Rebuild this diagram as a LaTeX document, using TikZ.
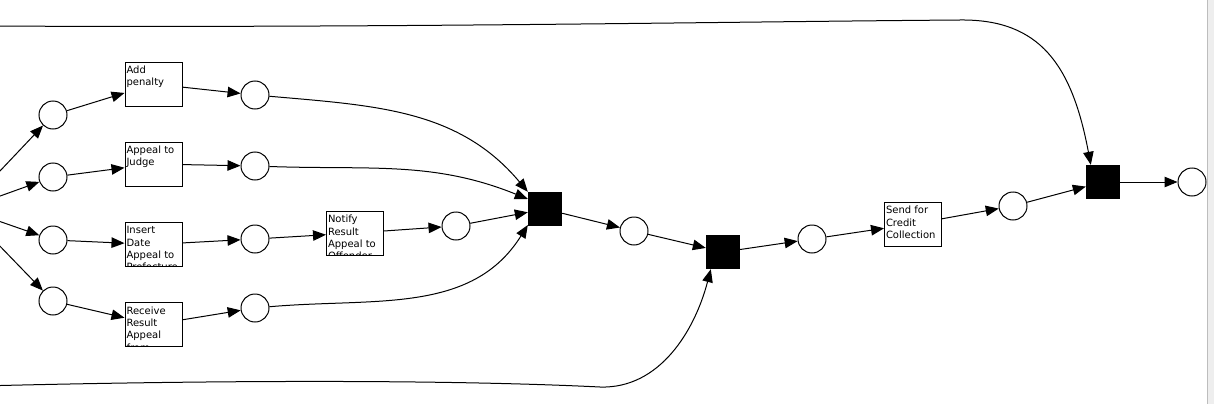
\documentclass[tikz,border=0pt]{standalone}
\usepackage{fontspec}
\setsansfont{DejaVu Sans}
\usetikzlibrary{arrows.meta}
\definecolor{stripgray}{HTML}{EEEEEE}
\definecolor{edgegray}{HTML}{BDBDBD}
\tikzset{
  place/.style={circle,draw,line width=1pt,minimum size=28pt,inner sep=0pt},
  silent/.style={rectangle,fill=black,minimum size=34pt,inner sep=0pt},
  lbl/.style={anchor=north west,draw=none,fill=none,minimum width=0pt,minimum height=0pt,inner sep=0pt,
    align=left,font=\sffamily\fontsize{10}{12.4}\selectfont},
  trans/.style={rectangle,draw,fill=white,line width=1pt,minimum width=57pt,minimum height=44pt,inner sep=0pt,
    path picture={\node[lbl] at ([xshift=1pt,yshift=-3.5pt]path picture bounding box.north west) {#1};}},
  flow/.style={line width=1pt,-{Triangle[length=13pt,width=10.5pt]}}
}
\begin{document}
\begin{tikzpicture}[x=1pt,y=-1pt]
      \useasboundingbox (0,0) rectangle (1214,404);
      \clip (0,0) rectangle (1214,404);
      \fill[stripgray] (1207,0) rectangle (1214,404);
      \draw[edgegray] (1207.5,0) to (1207.5,404);

      %%off-page ends
      \coordinate (src) at (-36,209);
      \coordinate (topL) at (-20,26);
      \coordinate (botL) at (-20,386);

      %%first column
      \node[place] (pA) at (53,115) {};
      \node[place] (pB) at (53,177) {};
      \node[place] (pC) at (53,240) {};
      \node[place] (pD) at (53,301) {};

      \node[trans={Add\\penalty}] (tAdd) at (153.5,84) {};
      \node[trans={Appeal to\\Judge}] (tJudge) at (153.5,164) {};
      \node[trans={Insert\\Date\\Appeal to\\Prefecture}] (tInsert) at (153.5,244.5) {};
      \node[trans={Receive\\Result\\Appeal\\from}] (tReceive) at (153.5,324.5) {};

      \node[place] (pA2) at (255,95) {};
      \node[place] (pB2) at (255,166) {};
      \node[place] (pC2) at (255,239) {};
      \node[place] (pD2) at (255,308) {};

      \node[trans={Notify\\Result\\Appeal to\\Offender}] (tNotify) at (355,233) {};
      \node[place] (pN) at (456,226) {};

      %%join and tail
      \node[silent] (t1) at (545,209) {};
      \node[place] (pM) at (634,231) {};
      \node[silent] (t2) at (723,252) {};
      \node[place] (pE) at (812,239) {};
      \node[trans={Send for\\Credit\\Collection}] (tSend) at (913,224) {};
      \node[place] (pF) at (1013,206) {};
      \node[silent] (t3) at (1103,182) {};
      \node[place] (pEnd) at (1192,182) {};

      \draw[flow] (src) -- (pA);
      \draw[flow] (src) -- (pB);
      \draw[flow] (src) -- (pC);
      \draw[flow] (src) -- (pD);

      \draw[flow] (pA) -- (tAdd);
      \draw[flow] (tAdd) -- (pA2);
      \draw[flow] (pB) -- (tJudge);
      \draw[flow] (tJudge) -- (pB2);
      \draw[flow] (pC) -- (tInsert);
      \draw[flow] (tInsert) -- (pC2);
      \draw[flow] (pC2) -- (tNotify);
      \draw[flow] (tNotify) -- (pN);
      \draw[flow] (pD) -- (tReceive);
      \draw[flow] (tReceive) -- (pD2);

      \draw[flow] (pA2) to[out=-5,in=130] (t1.north west);
      \draw[flow] (pB2) to[out=-2,in=158] ([yshift=10pt]t1.west);
      \draw[flow] (pN) -- (t1);
      \draw[flow] (pD2) to[out=5,in=-122] ([yshift=-16pt]t1.west);

      \draw[flow] (t1) -- (pM);
      \draw[flow] (pM) -- (t2);
      \draw[flow] (t2) -- (pE);
      \draw[flow] (pE) -- (tSend);
      \draw[flow] (tSend) -- (pF);
      \draw[flow] (pF) -- (t3);
      \draw[flow] (t3) -- (pEnd);

      %%long arcs
      \draw[flow] (topL) .. controls (400,28) and (700,22) .. (960,20)
                         .. controls (1040,19) and (1072,65) .. ([xshift=5pt]t3.north west);
      \draw[flow] (botL) .. controls (300,378) and (500,382) .. (600,387)
                         .. controls (660,389) and (695,330) .. ([xshift=5pt]t2.south west);
\end{tikzpicture}
\end{document}
